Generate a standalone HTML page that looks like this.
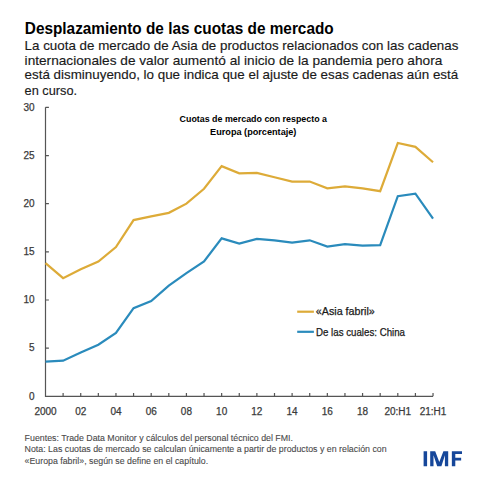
<!DOCTYPE html>
<html><head><meta charset="utf-8"><style>
html,body{margin:0;padding:0;background:#fff;width:485px;height:485px;overflow:hidden}
svg{display:block;font-family:"Liberation Sans",sans-serif}
</style></head><body>
<svg width="485" height="485" viewBox="0 0 485 485">
<text x="24.8" y="33.7" font-size="15.7" font-weight="bold" fill="#000" text-anchor="start" textLength="308.9" lengthAdjust="spacingAndGlyphs">Desplazamiento de las cuotas de mercado</text>
<text x="24.6" y="50.0" font-size="12.8" font-weight="normal" fill="#1a1a1a" stroke="#1a1a1a" stroke-width="0.15" text-anchor="start" textLength="433.79999999999995" lengthAdjust="spacingAndGlyphs">La cuota de mercado de Asia de productos relacionados con las cadenas</text>
<text x="24.6" y="64.9" font-size="12.8" font-weight="normal" fill="#1a1a1a" stroke="#1a1a1a" stroke-width="0.15" text-anchor="start" textLength="417.7" lengthAdjust="spacingAndGlyphs">internacionales de valor aumentó al inicio de la pandemia pero ahora</text>
<text x="24.6" y="79.3" font-size="12.8" font-weight="normal" fill="#1a1a1a" stroke="#1a1a1a" stroke-width="0.15" text-anchor="start" textLength="433.59999999999997" lengthAdjust="spacingAndGlyphs">está disminuyendo, lo que indica que el ajuste de esas cadenas aún está</text>
<text x="24.6" y="94.5" font-size="12.8" font-weight="normal" fill="#1a1a1a" stroke="#1a1a1a" stroke-width="0.15" text-anchor="start" textLength="52.49999999999999" lengthAdjust="spacingAndGlyphs">en curso.</text>
<text x="179.6" y="122.0" font-size="9.7" font-weight="bold" fill="#000" text-anchor="start" textLength="147.4" lengthAdjust="spacingAndGlyphs">Cuotas de mercado con respecto a</text>
<text x="210.1" y="134.6" font-size="9.7" font-weight="bold" fill="#000" text-anchor="start" textLength="86.29999999999998" lengthAdjust="spacingAndGlyphs">Europa (porcentaje)</text>
<path d="M45.5,107.2 V396.3 H433.03" fill="none" stroke="#555555" stroke-width="1.2"/>
<path d="M45.5,348.15 h3.4 M45.5,300.00 h3.4 M45.5,251.85 h3.4 M45.5,203.70 h3.4 M45.5,155.55 h3.4 M45.5,107.40 h3.4 M63.11,396.3 v-3.4 M80.73,396.3 v-3.4 M98.34,396.3 v-3.4 M115.96,396.3 v-3.4 M133.57,396.3 v-3.4 M151.19,396.3 v-3.4 M168.81,396.3 v-3.4 M186.42,396.3 v-3.4 M204.03,396.3 v-3.4 M221.65,396.3 v-3.4 M239.26,396.3 v-3.4 M256.88,396.3 v-3.4 M274.50,396.3 v-3.4 M292.11,396.3 v-3.4 M309.72,396.3 v-3.4 M327.34,396.3 v-3.4 M344.95,396.3 v-3.4 M362.57,396.3 v-3.4 M380.18,396.3 v-3.4 M397.80,396.3 v-3.4 M415.41,396.3 v-3.4 M433.03,396.3 v-3.4 " fill="none" stroke="#555555" stroke-width="1.2"/>
<text x="34.6" y="399.50" font-size="10" fill="#3a3a3a" stroke="#3a3a3a" stroke-width="0.25" text-anchor="end">0</text>
<text x="34.6" y="351.35" font-size="10" fill="#3a3a3a" stroke="#3a3a3a" stroke-width="0.25" text-anchor="end">5</text>
<text x="34.6" y="303.20" font-size="10" fill="#3a3a3a" stroke="#3a3a3a" stroke-width="0.25" text-anchor="end">10</text>
<text x="34.6" y="255.05" font-size="10" fill="#3a3a3a" stroke="#3a3a3a" stroke-width="0.25" text-anchor="end">15</text>
<text x="34.6" y="206.90" font-size="10" fill="#3a3a3a" stroke="#3a3a3a" stroke-width="0.25" text-anchor="end">20</text>
<text x="34.6" y="158.75" font-size="10" fill="#3a3a3a" stroke="#3a3a3a" stroke-width="0.25" text-anchor="end">25</text>
<text x="34.6" y="110.60" font-size="10" fill="#3a3a3a" stroke="#3a3a3a" stroke-width="0.25" text-anchor="end">30</text>
<text x="45.50" y="414.7" font-size="10" fill="#3a3a3a" stroke="#3a3a3a" stroke-width="0.25" text-anchor="middle">2000</text>
<text x="80.73" y="414.7" font-size="10" fill="#3a3a3a" stroke="#3a3a3a" stroke-width="0.25" text-anchor="middle">02</text>
<text x="115.96" y="414.7" font-size="10" fill="#3a3a3a" stroke="#3a3a3a" stroke-width="0.25" text-anchor="middle">04</text>
<text x="151.19" y="414.7" font-size="10" fill="#3a3a3a" stroke="#3a3a3a" stroke-width="0.25" text-anchor="middle">06</text>
<text x="186.42" y="414.7" font-size="10" fill="#3a3a3a" stroke="#3a3a3a" stroke-width="0.25" text-anchor="middle">08</text>
<text x="221.65" y="414.7" font-size="10" fill="#3a3a3a" stroke="#3a3a3a" stroke-width="0.25" text-anchor="middle">10</text>
<text x="256.88" y="414.7" font-size="10" fill="#3a3a3a" stroke="#3a3a3a" stroke-width="0.25" text-anchor="middle">12</text>
<text x="292.11" y="414.7" font-size="10" fill="#3a3a3a" stroke="#3a3a3a" stroke-width="0.25" text-anchor="middle">14</text>
<text x="327.34" y="414.7" font-size="10" fill="#3a3a3a" stroke="#3a3a3a" stroke-width="0.25" text-anchor="middle">16</text>
<text x="362.57" y="414.7" font-size="10" fill="#3a3a3a" stroke="#3a3a3a" stroke-width="0.25" text-anchor="middle">18</text>
<text x="397.80" y="414.7" font-size="10" fill="#3a3a3a" stroke="#3a3a3a" stroke-width="0.25" text-anchor="middle">20:H1</text>
<text x="433.03" y="414.7" font-size="10" fill="#3a3a3a" stroke="#3a3a3a" stroke-width="0.25" text-anchor="middle">21:H1</text>
<polyline points="45.50,263.21 63.11,278.14 80.73,269.18 98.34,261.48 115.96,247.03 133.57,220.07 151.19,216.41 168.81,212.85 186.42,203.70 204.03,188.77 221.65,166.14 239.26,173.37 256.88,172.88 274.50,177.22 292.11,181.55 309.72,181.55 327.34,188.29 344.95,186.37 362.57,188.29 380.18,191.18 397.80,143.03 415.41,146.88 433.03,162.29" fill="none" stroke="#DDAB38" stroke-width="2.2" stroke-linejoin="miter"/>
<polyline points="45.50,361.63 63.11,360.67 80.73,352.58 98.34,344.68 115.96,332.93 133.57,308.19 151.19,300.96 168.81,285.56 186.42,273.04 204.03,261.48 221.65,238.37 239.26,243.57 256.88,238.85 274.50,240.29 292.11,242.61 309.72,240.29 327.34,246.55 344.95,244.15 362.57,245.59 380.18,245.11 397.80,196.19 415.41,193.59 433.03,218.63" fill="none" stroke="#2A8BBC" stroke-width="2.2" stroke-linejoin="miter"/>
<path d="M297.2,311.7 H313.9" stroke="#DDAB38" stroke-width="2.2"/>
<path d="M297.2,331.8 H313.9" stroke="#2A8BBC" stroke-width="2.2"/>
<text x="315.8" y="314.9" font-size="10.6" font-weight="normal" fill="#1a1a1a" stroke="#1a1a1a" stroke-width="0.25" text-anchor="start" textLength="59.0" lengthAdjust="spacingAndGlyphs">«Asia fabril»</text>
<text x="316" y="335.5" font-size="10.6" font-weight="normal" fill="#1a1a1a" stroke="#1a1a1a" stroke-width="0.25" text-anchor="start" textLength="89" lengthAdjust="spacingAndGlyphs">De las cuales: China</text>
<text x="24.6" y="441.0" font-size="8.9" font-weight="normal" fill="#4a4a4a" stroke="#4a4a4a" stroke-width="0.1" text-anchor="start" textLength="268.4" lengthAdjust="spacingAndGlyphs">Fuentes: Trade Data Monitor y cálculos del personal técnico del FMI.</text>
<text x="24.6" y="452.3" font-size="8.9" font-weight="normal" fill="#4a4a4a" stroke="#4a4a4a" stroke-width="0.1" text-anchor="start" textLength="362.0" lengthAdjust="spacingAndGlyphs">Nota: Las cuotas de mercado se calculan únicamente a partir de productos y en relación con</text>
<text x="24.6" y="463.5" font-size="8.9" font-weight="normal" fill="#4a4a4a" stroke="#4a4a4a" stroke-width="0.1" text-anchor="start" textLength="183.5" lengthAdjust="spacingAndGlyphs">«Europa fabril», según se define en el capítulo.</text>
<path fill="#16479A" d="M423.6,451.35H427.1V466.25H423.6Z M430.2,466.25V451.35H435.2L439.3,462.0L443.4,451.35H448.2V466.25H444.9V455.3L441.4,466.25H437.2L433.5,455.3V466.25Z M451.85,466.25V451.3H462.0V454.1H455.3V457.7H461.15V460.55H455.3V466.25Z"/>
</svg>
</body></html>
